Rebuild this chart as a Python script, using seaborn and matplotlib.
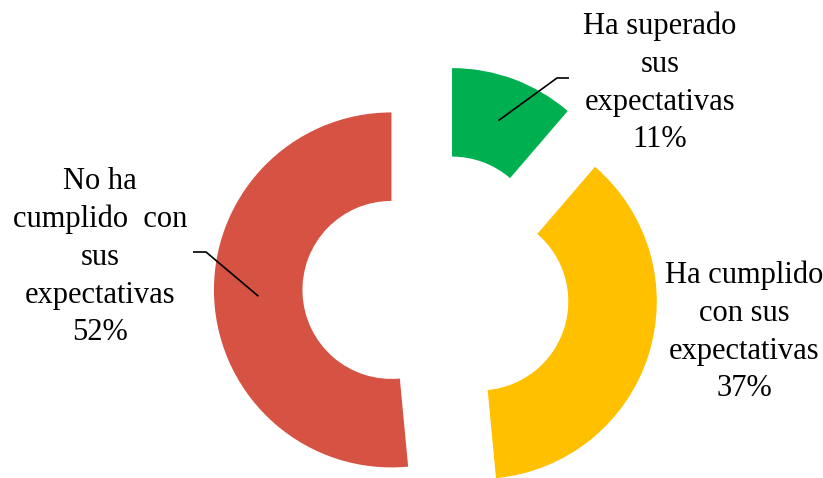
import math
import matplotlib
matplotlib.use("Agg")
import matplotlib.pyplot as plt
import seaborn as sns

# Data
categories = ["Ha superado\nsus\nexpectativas", "Ha cumplido\ncon sus\nexpectativas", "No ha\ncumplido  con\nsus\nexpectativas"]
shares = [11.3, 37.2, 51.5]
pct_labels = ["11%", "37%", "52%"]
colors = ["#00B050", "#FFC000", "#D65243"]

sns.set_style("white")
plt.rcParams['font.family'] = ['Liberation Serif', 'DejaVu Serif']

W, H = 823, 478
fig = plt.figure(figsize=(W / 100, H / 100), dpi=100)
ax = fig.add_axes([0, 0, 1, 1])

R = 177.5
ring = 88.5
cx, cy = 436.4, H - 287.8
expl = 45.0

wedges, _ = ax.pie(shares, colors=colors, startangle=90, counterclock=False,
                   radius=R, center=(cx, cy), explode=[expl] * 3,
                   wedgeprops=dict(width=ring, linewidth=0))

ax.set_xlim(0, W)
ax.set_ylim(0, H)
ax.set_aspect('equal')
ax.axis('off')

fs = 22
ls = 1.40
labels = [f"{c}\n{p}" for c, p in zip(categories, pct_labels)]
label_pos = [(660, H - 83), (744, H - 332), (100, H - 257)]
for lab, (x, y) in zip(labels, label_pos):
    ax.text(x, y, lab, ha='center', va='center', fontsize=fs, linespacing=ls, color='black')

# leader lines from ring mid-point of the wedge
def mid_point(w):
    tm = math.radians((w.theta1 + w.theta2) / 2)
    rr = w.r - w.width / 2
    return w.center[0] + rr * math.cos(tm), w.center[1] + rr * math.sin(tm)

leaders = {0: [(557, H - 78), (569, H - 78)], 2: [(206, H - 252), (193, H - 252)]}
for i, pts in leaders.items():
    sx, sy = mid_point(wedges[i])
    xs = [sx] + [p[0] for p in pts]
    ys = [sy] + [p[1] for p in pts]
    ax.plot(xs, ys, color='black', lw=1.2, solid_capstyle='butt')

fig.savefig("out.png", dpi=100, facecolor='white')
